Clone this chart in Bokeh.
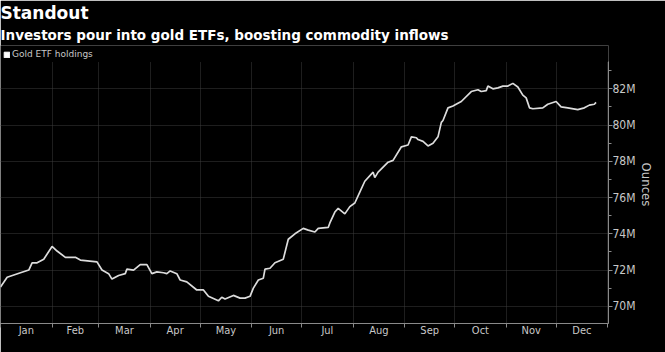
import pandas as pd
from datetime import datetime
from bokeh.plotting import figure
from bokeh.models import (Range1d, FixedTicker, DatetimeTickFormatter, PrintfTickFormatter,
                          Title, Legend, LegendItem, ColumnDataSource, Grid)
from bokeh.embed import file_html
from bokeh.resources import INLINE

# ---- data ----
dates = ["2019-01-01", "2019-01-05", "2019-01-13", "2019-01-18", "2019-01-20", "2019-01-23",
         "2019-01-27", "2019-02-01", "2019-02-04", "2019-02-09", "2019-02-15", "2019-02-18",
         "2019-02-28", "2019-03-03", "2019-03-07", "2019-03-09", "2019-03-13", "2019-03-17",
         "2019-03-18", "2019-03-22", "2019-03-26", "2019-03-30", "2019-04-02", "2019-04-05",
         "2019-04-09", "2019-04-11", "2019-04-13", "2019-04-17", "2019-04-19", "2019-04-23",
         "2019-04-29", "2019-05-03", "2019-05-06", "2019-05-12", "2019-05-14", "2019-05-16",
         "2019-05-21", "2019-05-25", "2019-05-28", "2019-05-31", "2019-06-02", "2019-06-05",
         "2019-06-08", "2019-06-09", "2019-06-12", "2019-06-15", "2019-06-20", "2019-06-23",
         "2019-06-27", "2019-07-02", "2019-07-05", "2019-07-09", "2019-07-11", "2019-07-17",
         "2019-07-18", "2019-07-21", "2019-07-23", "2019-07-27", "2019-07-30", "2019-08-02",
         "2019-08-05", "2019-08-08", "2019-08-13", "2019-08-14", "2019-08-16", "2019-08-22",
         "2019-08-25", "2019-08-30", "2019-09-03", "2019-09-05", "2019-09-08", "2019-09-09",
         "2019-09-12", "2019-09-15", "2019-09-18", "2019-09-21", "2019-09-23", "2019-09-24",
         "2019-09-27", "2019-09-30", "2019-10-03", "2019-10-05", "2019-10-11", "2019-10-15",
         "2019-10-17", "2019-10-20", "2019-10-21", "2019-10-24", "2019-10-27", "2019-10-30",
         "2019-11-02", "2019-11-05", "2019-11-08", "2019-11-11", "2019-11-13", "2019-11-15",
         "2019-11-17", "2019-11-23", "2019-11-26", "2019-12-01", "2019-12-04", "2019-12-08",
         "2019-12-14", "2019-12-18", "2019-12-21", "2019-12-24", "2019-12-25"]
holdings_m = [71.06, 71.6, 71.85, 72.0, 72.4, 72.4,
              72.6, 73.3, 73.05, 72.7, 72.7, 72.55,
              72.45, 72.0, 71.8, 71.5, 71.7, 71.8,
              72.05, 72.0, 72.3, 72.3, 71.8, 71.9,
              71.85, 71.8, 71.95, 71.8, 71.45, 71.35,
              70.9, 70.9, 70.55, 70.3, 70.5, 70.4,
              70.6, 70.45, 70.45, 70.55, 71.0, 71.45,
              71.55, 72.05, 72.1, 72.4, 72.6, 73.7,
              74.0, 74.3, 74.2, 74.1, 74.3, 74.35,
              74.6, 75.2, 75.4, 75.1, 75.5, 75.7,
              76.3, 76.9, 77.4, 77.1, 77.4, 77.95,
              78.05, 78.8, 78.9, 79.35, 79.3, 79.2,
              79.1, 78.85, 79.0, 79.35, 80.15, 80.25,
              80.95, 81.05, 81.2, 81.3, 81.85, 81.95,
              81.85, 81.9, 82.15, 82.0, 82.05, 82.15,
              82.15, 82.3, 82.1, 81.65, 81.5, 80.95,
              80.9, 80.95, 81.15, 81.3, 81.0, 80.95,
              80.85, 80.95, 81.1, 81.15, 81.25]
month_labels = ["Jan", "Feb", "Mar", "Apr", "May", "Jun", "Jul", "Aug", "Sep", "Oct", "Nov", "Dec"]
y_ticks = [70, 72, 74, 76, 78, 80, 82]
title_text = "Standout"
subtitle_text = "Investors pour into gold ETFs, boosting commodity inflows"
series_name = "Gold ETF holdings"
y_label = "Ounces"

# ---- figure ----
BG = "#000000"
TXT = "#c8c8c8"
GRID = "#3c3c3c"
AXC = "#8a8a8a"
COND = "Liberation Sans Narrow, DejaVu Sans Condensed, Roboto Condensed, Roboto, sans-serif"

Y_LO, Y_HI_AXIS, Y_HI = 69.05, 83.5, 84.39

src = ColumnDataSource(dict(x=pd.to_datetime(dates), y=holdings_m))

p = figure(width=665, height=352, x_axis_type="datetime",
           y_axis_location="right", output_backend="svg", toolbar_location=None,
           x_range=Range1d(datetime(2019, 1, 1), datetime(2020, 1, 1, 12)),
           y_range=Range1d(Y_LO, Y_HI),
           min_border_left=0, min_border_right=57, min_border_top=0, min_border_bottom=29)
p.background_fill_color = BG
p.border_fill_color = BG
p.outline_line_color = None

def ms(d):
    return pd.Timestamp(d).value / 1e6

month_starts = pd.date_range("2019-01-01", "2020-01-01", freq="MS")
mid_months = [ms(month_starts[i] + (month_starts[i + 1] - month_starts[i]) / 2) for i in range(12)]
bounds = [ms(d) for d in month_starts]

xa = p.xaxis[0]
xa.ticker = FixedTicker(ticks=mid_months, minor_ticks=bounds)
xa.formatter = DatetimeTickFormatter(days="%b", months="%b", years="%b", hours="%b",
                                     milliseconds="%b", seconds="%b", minsec="%b", minutes="%b",
                                     hourmin="%b")
xa.major_tick_line_color = None
xa.major_tick_out = 0
xa.major_tick_in = 0
xa.minor_tick_out = 4
xa.minor_tick_in = 0
xa.minor_tick_line_color = AXC
xa.axis_line_color = AXC
xa.major_label_text_color = TXT
xa.major_label_text_font = COND
xa.major_label_text_font_size = "11px"
xa.major_label_standoff = -4

ya = p.yaxis[0]
ya.bounds = (Y_LO, Y_HI_AXIS)
ya.ticker = FixedTicker(ticks=y_ticks, minor_ticks=[v + 1 for v in range(68, 84, 2)])
ya.formatter = PrintfTickFormatter(format="%dM")
ya.major_tick_out = 4
ya.major_tick_in = 0
ya.minor_tick_out = 3
ya.minor_tick_in = 0
ya.major_tick_line_color = AXC
ya.minor_tick_line_color = AXC
ya.axis_line_color = AXC
ya.major_label_text_color = TXT
ya.major_label_text_font = COND
ya.major_label_text_font_size = "12px"
ya.major_label_standoff = 0
ya.axis_label = y_label
ya.axis_label_text_color = TXT
ya.axis_label_text_font = COND
ya.axis_label_text_font_size = "13px"
ya.axis_label_text_font_style = "normal"
ya.axis_label_standoff = 0

p.xgrid.grid_line_color = None
p.xgrid.minor_grid_line_color = GRID
p.xgrid.minor_grid_line_dash = "1 1"
if "cross_bounds" in Grid.properties():
    p.xgrid.cross_bounds = (Y_LO, Y_HI_AXIS)
else:
    p.xgrid.minor_grid_line_color = None
    p.segment(x0=month_starts[1:-1], x1=month_starts[1:-1], y0=Y_LO, y1=Y_HI_AXIS,
              line_color=GRID, line_dash="1 1", line_width=1, level="underlay")
p.ygrid.grid_line_color = GRID
p.ygrid.grid_line_dash = "1 1"

p.line("x", "y", source=src, line_color="#dcdcdc", line_width=1.7)

# legend swatch (square): a hidden one-row renderer so the legend can draw its glyph
sw_src = ColumnDataSource(dict(l=src.data["x"][:1], r=src.data["x"][:1],
                               t=holdings_m[:1], b=holdings_m[:1]))
swatch = p.quad(left="l", right="r", top="t", bottom="b", source=sw_src,
                fill_color="#ffffff", line_color="#ffffff", visible=False)
legend = Legend(items=[LegendItem(label=series_name, renderers=[swatch])],
                location=(3, 264), orientation="horizontal",
                glyph_width=7, glyph_height=7, label_text_font_size="9px",
                label_text_color=TXT, label_text_font="DejaVu Sans",
                background_fill_alpha=0, border_line_alpha=0,
                padding=0, margin=0, spacing=0, label_standoff=2,
                label_height=9, label_text_baseline="middle")
p.add_layout(legend, "center")

p.add_layout(Title(text=subtitle_text, text_font_size="13.5px", text_font_style="bold",
                   text_color="#ffffff", text_font="DejaVu Sans", standoff=5, offset=0,
                   align="left"), "above")
p.add_layout(Title(text=title_text, text_font_size="17px", text_font_style="bold",
                   text_color="#ffffff", text_font="DejaVu Sans", standoff=0, offset=0,
                   align="left"), "above")

open("out.html", "w").write(file_html(p, INLINE))
